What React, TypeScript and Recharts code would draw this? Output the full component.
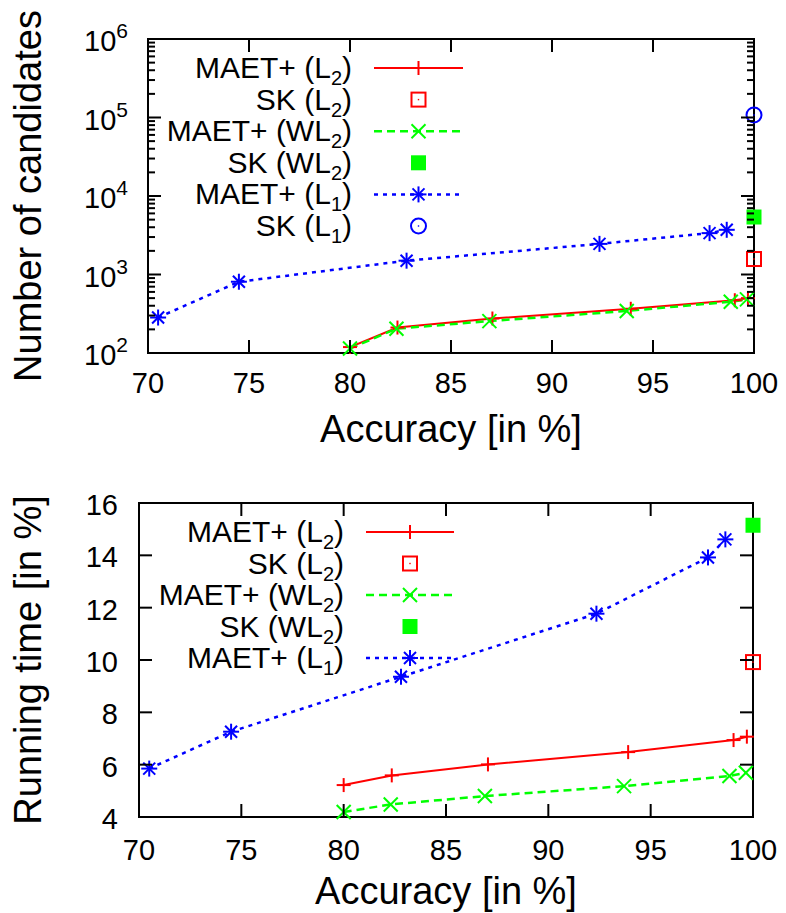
import React from "react";
import { ComposedChart, Line, Scatter, XAxis, YAxis, Legend } from "recharts";

const W = 786;
const FONT = "'Liberation Sans', Arial, Helvetica, sans-serif";
const RED = "#ff0000";
const GREEN = "#00ff00";
const BLUE = "#0000ff";

// accuracy [in %] for each series
const accL2 = [80.0, 82.35, 87.05, 93.9, 99.05, 99.7];
const accWL2 = [80.0, 82.3, 86.9, 93.7, 98.85, 99.65];
const accL1 = [70.5, 74.5, 82.8, 92.35, 97.8, 98.65];
const accSK = [100];

// number of candidates
const candL2 = [119, 211, 275, 366, 470, 500];
const candWL2 = [114, 204, 255, 343, 450, 482];
const candL1 = [283, 809, 1500, 2455, 3365, 3710];
const candSKL2 = [1575];
const candSKWL2 = [5400];
const candSKL1 = [107700];

// running time [in %]
const timeL2 = [5.22, 5.59, 6.01, 6.48, 6.94, 7.07];
const timeWL2 = [4.19, 4.48, 4.8, 5.18, 5.57, 5.69];
const timeL1 = [5.85, 7.26, 9.36, 11.77, 13.92, 14.61];
const timeSKL2 = [9.92];
const timeSKWL2 = [15.15];

// ticks
const accTicks = [70, 75, 80, 85, 90, 95, 100];
const candDecades = [100, 1000, 10000, 100000, 1000000];
const candTicks = candDecades.flatMap((d, i) =>
  i < candDecades.length - 1 ? [1, 2, 3, 4, 5, 6, 7, 8, 9].map((m) => d * m) : [d]
);
const timeTicks = [4, 6, 8, 10, 12, 14, 16];

const pts = (xs: number[], ys: number[]) => xs.map((x, i) => ({ x, y: ys[i] }));

type MarkKind = "plus" | "cross" | "star" | "box" | "boxFill" | "circle";

function Mark({ kind, cx, cy, color }: { kind: MarkKind; cx?: number; cy?: number; color: string }) {
  if (cx == null || cy == null) return null;
  const s = { stroke: color, strokeWidth: 2, fill: "none" };
  switch (kind) {
    case "plus":
      return (
        <g {...s}>
          <line x1={cx - 7} x2={cx + 7} y1={cy} y2={cy} />
          <line x1={cx} x2={cx} y1={cy - 7} y2={cy + 7} />
        </g>
      );
    case "cross":
      return (
        <g {...s}>
          <line x1={cx - 7} y1={cy - 7} x2={cx + 7} y2={cy + 7} />
          <line x1={cx - 7} y1={cy + 7} x2={cx + 7} y2={cy - 7} />
        </g>
      );
    case "star":
      return (
        <g {...s}>
          <line x1={cx - 8} x2={cx + 8} y1={cy} y2={cy} />
          <line x1={cx} x2={cx} y1={cy - 8} y2={cy + 8} />
          <line x1={cx - 6} y1={cy - 6} x2={cx + 6} y2={cy + 6} />
          <line x1={cx - 6} y1={cy + 6} x2={cx + 6} y2={cy - 6} />
        </g>
      );
    case "box":
      return (
        <g>
          <rect x={cx - 7} y={cy - 7} width={14} height={14} {...s} />
          <rect x={cx - 0.7} y={cy - 0.7} width={1.4} height={1.4} fill={color} />
        </g>
      );
    case "boxFill":
      return <rect x={cx - 7.5} y={cy - 7.5} width={15} height={15} fill={color} />;
    case "circle":
      return (
        <g>
          <circle cx={cx} cy={cy} r={7.5} {...s} />
          <rect x={cx - 0.7} y={cy - 0.7} width={1.4} height={1.4} fill={color} />
        </g>
      );
  }
  return null;
}

const dotOf = (kind: MarkKind, color: string) => (p: any) =>
  <Mark key={`m${p.index}`} kind={kind} cx={p.cx} cy={p.cy} color={color} />;
const shapeOf = (kind: MarkKind, color: string) => (p: any) =>
  <Mark kind={kind} cx={p.cx} cy={p.cy} color={color} />;

const isDecade = (v: number) => Math.abs(Math.log10(v) - Math.round(Math.log10(v))) < 1e-6;
const tickStroke = { stroke: "#000", strokeWidth: 2 };
const frame = { stroke: "#000", strokeWidth: 2, strokeLinecap: "square" as const };

function LogTickLeft({ x, y, payload }: any) {
  const v = payload.value;
  const major = isDecade(v);
  return (
    <g>
      <line x1={x} x2={x + (major ? 13 : 7)} y1={y} y2={y} {...tickStroke} />
      {major && (
        <text x={x - 20} y={y + 12} textAnchor="end" fontSize={29} fontFamily={FONT} fill="#000">
          10<tspan dy={-13} fontSize={21}>{Math.round(Math.log10(v))}</tspan>
        </text>
      )}
    </g>
  );
}

function LogTickRight({ x, y, payload }: any) {
  const major = isDecade(payload.value);
  return <line x1={x} x2={x - (major ? 13 : 7)} y1={y} y2={y} {...tickStroke} />;
}

function LinTickLeft({ x, y, payload }: any) {
  return (
    <g>
      <line x1={x} x2={x + 13} y1={y} y2={y} {...tickStroke} />
      <text x={x - 21} y={y + 12} textAnchor="end" fontSize={29} fontFamily={FONT} fill="#000">
        {payload.value}
      </text>
    </g>
  );
}

function LinTickRight({ x, y }: any) {
  return <line x1={x} x2={x - 13} y1={y} y2={y} {...tickStroke} />;
}

function XTickBottom({ x, y, payload, dy }: any) {
  return (
    <g>
      <line x1={x} x2={x} y1={y} y2={y - 13} {...tickStroke} />
      <text x={x} y={y + (dy ?? 41)} textAnchor="middle" fontSize={29} fontFamily={FONT} fill="#000">
        {payload.value}
      </text>
    </g>
  );
}

function XTickTop({ x, y }: any) {
  return <line x1={x} x2={x} y1={y} y2={y + 13} {...tickStroke} />;
}

const xTitle = (text: string, dy: number) => ({
  content: ({ viewBox }: any) => (
    <text
      x={viewBox.x + viewBox.width / 2}
      y={viewBox.y + dy}
      textAnchor="middle"
      fontSize={38}
      fontFamily={FONT}
      fill="#000"
    >
      {text}
    </text>
  ),
});

const yTitle = (text: string, dx: number) => ({
  content: ({ viewBox }: any) => {
    const cx = viewBox.x + viewBox.width - dx;
    const cy = viewBox.y + viewBox.height / 2;
    return (
      <text
        x={cx}
        y={cy}
        transform={`rotate(-90 ${cx} ${cy})`}
        textAnchor="middle"
        fontSize={38}
        fontFamily={FONT}
        fill="#000"
      >
        {text}
      </text>
    );
  },
});

type LegendRow = { pre: string; sub: string; kind: MarkKind; color: string; dash?: string; line: boolean; width?: number };

const topLegend: LegendRow[] = [
  { pre: "MAET+ (L", sub: "2", kind: "plus", color: RED, line: true, width: 2 },
  { pre: "SK (L", sub: "2", kind: "box", color: RED, line: false },
  { pre: "MAET+ (WL", sub: "2", kind: "cross", color: GREEN, line: true, dash: "8 5", width: 2.5 },
  { pre: "SK (WL", sub: "2", kind: "boxFill", color: GREEN, line: false },
  { pre: "MAET+ (L", sub: "1", kind: "star", color: BLUE, line: true, dash: "4 5", width: 2.5 },
  { pre: "SK (L", sub: "1", kind: "circle", color: BLUE, line: false },
];
const bottomLegend = topLegend.slice(0, 5);

function LegendBox({ rows, textX, x1, x2, y0, dy, height }: any) {
  const mx = (x1 + x2) / 2;
  return (
    <svg width={W} height={height} style={{ display: "block" }}>
      {rows.map((r: LegendRow, i: number) => {
        const y = y0 + i * dy;
        return (
          <g key={i}>
            <text x={textX} y={y + 10} textAnchor="end" fontSize={30} fontFamily={FONT} fill="#000">
              {r.pre}
              <tspan dy={7} fontSize={20}>{r.sub}</tspan>
              <tspan dy={-7}>)</tspan>
            </text>
            {r.line && (
              <line x1={x1} x2={x2} y1={y} y2={y} stroke={r.color} strokeWidth={r.width} strokeDasharray={r.dash} />
            )}
            <Mark kind={r.kind} cx={mx} cy={y} color={r.color} />
          </g>
        );
      })}
    </svg>
  );
}

function CandidatesChart() {
  return (
    <ComposedChart width={W} height={456} margin={{ top: 38, right: 31, bottom: 102, left: 147 }}>
      <XAxis xAxisId="b" dataKey="x" type="number" domain={[70, 100]} ticks={accTicks} interval={0}
        height={1} tickSize={0} tickMargin={0} tickLine={false} axisLine={frame}
        tick={<XTickBottom dy={40} />} label={xTitle("Accuracy [in %]", 89)} />
      <XAxis xAxisId="t" orientation="top" dataKey="x" type="number" domain={[70, 100]} allowDataOverflow
        ticks={accTicks} interval={0} height={1} tickSize={0} tickMargin={0} tickLine={false}
        axisLine={frame} tick={<XTickTop />} />
      <YAxis yAxisId="l" dataKey="y" type="number" scale="log" domain={[100, 1000000]} ticks={candTicks}
        interval={0} width={1} tickSize={0} tickMargin={0} tickLine={false} axisLine={frame}
        tick={<LogTickLeft />} label={yTitle("Number of candidates", 107)} />
      <YAxis yAxisId="r" orientation="right" dataKey="y" type="number" scale="log" domain={[100, 1000000]}
        allowDataOverflow ticks={candTicks} interval={0} width={1} tickSize={0} tickMargin={0}
        tickLine={false} axisLine={frame} tick={<LogTickRight />} />

      <Line xAxisId="b" yAxisId="l" data={pts(accL2, candL2)} dataKey="y" type="linear" stroke={RED}
        strokeWidth={2} dot={dotOf("plus", RED)} activeDot={false} isAnimationActive={false} />
      <Scatter xAxisId="b" yAxisId="l" data={pts(accSK, candSKL2)} dataKey="y"
        shape={shapeOf("box", RED)} isAnimationActive={false} />
      <Line xAxisId="b" yAxisId="l" data={pts(accWL2, candWL2)} dataKey="y" type="linear" stroke={GREEN}
        strokeWidth={2.5} strokeDasharray="8 5" dot={dotOf("cross", GREEN)} activeDot={false}
        isAnimationActive={false} />
      <Scatter xAxisId="b" yAxisId="l" data={pts(accSK, candSKWL2)} dataKey="y"
        shape={shapeOf("boxFill", GREEN)} isAnimationActive={false} />
      <Line xAxisId="b" yAxisId="l" data={pts(accL1, candL1)} dataKey="y" type="linear" stroke={BLUE}
        strokeWidth={2.5} strokeDasharray="4 5" dot={dotOf("star", BLUE)} activeDot={false}
        isAnimationActive={false} />
      <Scatter xAxisId="b" yAxisId="l" data={pts(accSK, candSKL1)} dataKey="y"
        shape={shapeOf("circle", BLUE)} isAnimationActive={false} />

      <Legend layout="vertical" align="center" verticalAlign="middle"
        wrapperStyle={{ left: 0, top: 0, width: W, height: 250 }}
        content={() => <LegendBox rows={topLegend} textX={352} x1={374} x2={463} y0={68} dy={31.6} height={250} />} />
    </ComposedChart>
  );
}

function RunningTimeChart() {
  return (
    <ComposedChart width={W} height={457} margin={{ top: 46, right: 32, bottom: 95, left: 138 }}>
      <XAxis xAxisId="b" dataKey="x" type="number" domain={[70, 100]} ticks={accTicks} interval={0}
        height={1} tickSize={0} tickMargin={0} tickLine={false} axisLine={frame}
        tick={<XTickBottom dy={43} />} label={xTitle("Accuracy [in %]", 87)} />
      <XAxis xAxisId="t" orientation="top" dataKey="x" type="number" domain={[70, 100]} allowDataOverflow
        ticks={accTicks} interval={0} height={1} tickSize={0} tickMargin={0} tickLine={false}
        axisLine={frame} tick={<XTickTop />} />
      <YAxis yAxisId="l" dataKey="y" type="number" domain={[4, 16]} ticks={timeTicks} interval={0}
        width={1} tickSize={0} tickMargin={0} tickLine={false} axisLine={frame}
        tick={<LinTickLeft />} label={yTitle("Running time [in %]", 98)} />
      <YAxis yAxisId="r" orientation="right" dataKey="y" type="number" domain={[4, 16]} allowDataOverflow
        ticks={timeTicks} interval={0} width={1} tickSize={0} tickMargin={0} tickLine={false}
        axisLine={frame} tick={<LinTickRight />} />

      <Line xAxisId="b" yAxisId="l" data={pts(accL2, timeL2)} dataKey="y" type="linear" stroke={RED}
        strokeWidth={2} dot={dotOf("plus", RED)} activeDot={false} isAnimationActive={false} />
      <Scatter xAxisId="b" yAxisId="l" data={pts(accSK, timeSKL2)} dataKey="y"
        shape={shapeOf("box", RED)} isAnimationActive={false} />
      <Line xAxisId="b" yAxisId="l" data={pts(accWL2, timeWL2)} dataKey="y" type="linear" stroke={GREEN}
        strokeWidth={2.5} strokeDasharray="8 5" dot={dotOf("cross", GREEN)} activeDot={false}
        isAnimationActive={false} />
      <Scatter xAxisId="b" yAxisId="l" data={pts(accSK, timeSKWL2)} dataKey="y"
        shape={shapeOf("boxFill", GREEN)} isAnimationActive={false} />
      <Line xAxisId="b" yAxisId="l" data={pts(accL1, timeL1)} dataKey="y" type="linear" stroke={BLUE}
        strokeWidth={2.5} strokeDasharray="4 5" dot={dotOf("star", BLUE)} activeDot={false}
        isAnimationActive={false} />

      <Legend layout="vertical" align="center" verticalAlign="middle"
        wrapperStyle={{ left: 0, top: 0, width: W, height: 250 }}
        content={() => <LegendBox rows={bottomLegend} textX={344} x1={366} x2={454} y0={532 - 456} dy={31.5} height={250} />} />
    </ComposedChart>
  );
}

export default function App() {
  return (
    <div style={{ position: "absolute", left: 0, top: 0, width: W, height: 913, background: "#fff" }}>
      <div style={{ position: "absolute", left: 0, top: 0 }}>
        <CandidatesChart />
      </div>
      <div style={{ position: "absolute", left: 0, top: 456 }}>
        <RunningTimeChart />
      </div>
    </div>
  );
}
